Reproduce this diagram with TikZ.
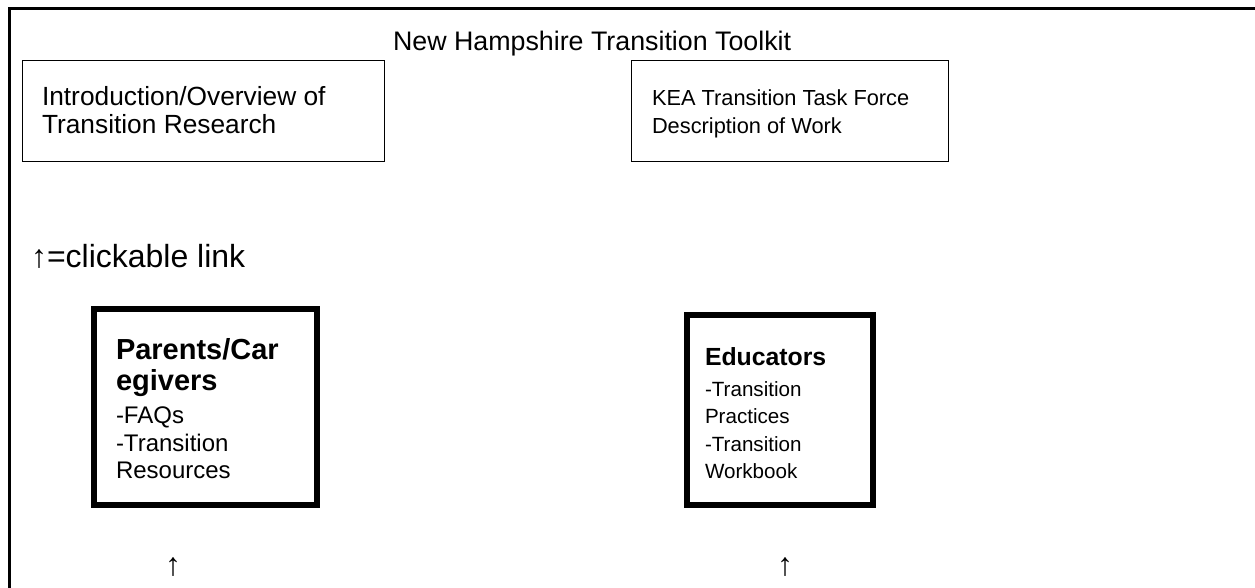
\documentclass[tikz,border=0pt]{standalone}
\usepackage{fontspec}
\setmainfont{Liberation Sans}
\newcommand{\txtsize}[1]{\fontsize{#1}{#1}\selectfont}

\begin{document}
\begin{tikzpicture}[y=1pt, x=1pt, yscale=-1, inner sep=0pt, outer sep=0pt,
  thinbox/.style={draw=black,line join=miter,line width=1.2pt},
  thickbox/.style={draw=black,line join=miter,line width=6pt},
  txt/.style={anchor=base west}]
  \useasboundingbox (0,0) rectangle (1255,588);
  \path[draw=black,line join=miter,line cap=butt,line width=3pt]
  (9.5,588) -- (9.5,8.5) -- (1255,8.5);
  \path[thinbox] (22.5,60.5) rectangle (384.5,161.5);
  \path[thinbox] (631.5,60.5) rectangle (948.5,161.5);
  \path[thickbox] (94,309) rectangle (317,505);
  \path[thickbox] (687,315) rectangle (873,505);
  \path[fill=black] (393,51) node[txt] (title) {\txtsize{26.8}New Hampshire Transition Toolkit};
  \path[fill=black] (42,106) node[txt] (intro-1) {\txtsize{26.3}Introduction/Overview of};
  \path[fill=black] (42,134) node[txt] (intro-2) {\txtsize{26.3}Transition Research};
  \path[fill=black] (652,106) node[txt] (kea-1) {\txtsize{21.8}KEA Transition Task Force};
  \path[fill=black] (652,134) node[txt] (kea-2) {\txtsize{21.8}Description of Work};
  \path[fill=black] (31,267) node[txt] (legend) {\txtsize{32}↑=clickable link};
  \path[fill=black] (116,359) node[txt] (parents-1) {\txtsize{29}\bfseries Parents/Car};
  \path[fill=black] (116,390) node[txt] (parents-2) {\txtsize{29}\bfseries egivers};
  \path[fill=black] (116,423) node[txt] (parents-3) {\txtsize{24}-FAQs};
  \path[fill=black] (116,451) node[txt] (parents-4) {\txtsize{24}-Transition};
  \path[fill=black] (116,478) node[txt] (parents-5) {\txtsize{24}Resources};
  \path[fill=black] (705,365) node[txt] (educators-1) {\txtsize{24.8}\bfseries Educators};
  \path[fill=black] (705,396) node[txt] (educators-2) {\txtsize{20.6}-Transition};
  \path[fill=black] (705,423) node[txt] (educators-3) {\txtsize{20.6}Practices};
  \path[fill=black] (705,451) node[txt] (educators-4) {\txtsize{20.6}-Transition};
  \path[fill=black] (705,478) node[txt] (educators-5) {\txtsize{20.6}Workbook};
  \path[fill=black] (173,575) node[anchor=base] (link-parents) {\txtsize{32}↑};
  \path[fill=black] (785,575) node[anchor=base] (link-educators) {\txtsize{32}↑};
\end{tikzpicture}
\end{document}
